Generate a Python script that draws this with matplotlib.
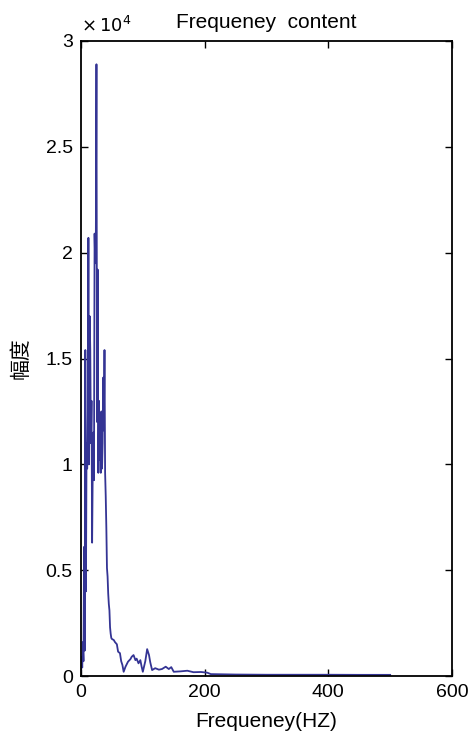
import matplotlib
matplotlib.use("Agg")
import matplotlib.pyplot as plt
from matplotlib.ticker import FuncFormatter

plt.rcParams['font.family'] = ['Liberation Sans', 'Noto Sans CJK SC', 'DejaVu Sans']

# spectrum (Hz, amplitude)
freq_main = list(range(0, 51))
amp_main = [200, 900, 400, 1600, 700, 6100, 1200, 15400, 4000, 11000,
            9800, 12500, 20700, 10000, 17000, 15400, 11000, 13000, 6300, 9800,
            11500, 9250, 20900, 19500, 20600, 28900, 12000, 19200, 9600, 13000,
            10200, 11600, 9600, 12500, 9800, 11000, 14100, 11600, 15400, 9600,
            8500, 7000, 5100, 4700, 3900, 3400, 3100, 2300, 2000, 1800, 1750]
freq_tail = [53, 55, 58, 60, 63, 65, 67, 69, 72, 76, 80, 82, 85, 88, 90, 93, 96,
             98, 100, 104, 107, 110, 112, 115, 120, 126, 131, 137, 142, 146, 150,
             161, 172, 182, 194, 204, 210, 250, 300, 350, 400, 450, 500]
amp_tail = [1700, 1600, 1500, 1150, 1080, 700, 520, 200, 440, 675, 800, 910, 990, 750,
            820, 600, 750, 450, 200, 700, 1270, 990, 650, 280, 370, 300, 330, 440,
            330, 420, 200, 220, 250, 180, 190, 160, 90, 70, 60, 60, 60, 55, 55]

freq = freq_main + freq_tail
amp = amp_main + amp_tail

fig = plt.figure(figsize=(4.72, 7.36), dpi=100)
ax = fig.add_axes([0.1716, 0.0815, 0.786, 0.8628])

ax.plot(freq, amp, color='#343494', linewidth=1.3)

ax.set_xlim(0, 600)
ax.set_ylim(0, 30000)
ax.set_xticks([0, 200, 400, 600])
ax.set_yticks([0, 5000, 10000, 15000, 20000, 25000, 30000])
ax.yaxis.set_major_formatter(FuncFormatter(lambda v, p: '%g' % (v / 1e4)))
ax.tick_params(direction='in', top=True, right=True, length=5, width=1,
               labelsize=14, colors='black', pad=6)
for s in ax.spines.values():
    s.set_linewidth(1.3)

ax.text(0.0, 1.008, r'$\times\,10^{4}$', transform=ax.transAxes,
        ha='left', va='bottom', fontsize=13, family='DejaVu Sans')
ax.set_title('Frequeney  content', fontsize=15, pad=9)
ax.set_xlabel('Frequeney(HZ)', fontsize=15, labelpad=8)
ax.set_ylabel('幅度', fontsize=15, family=['Noto Sans CJK SC', 'DejaVu Sans'], labelpad=10)

fig.savefig('out.png', dpi=100)
